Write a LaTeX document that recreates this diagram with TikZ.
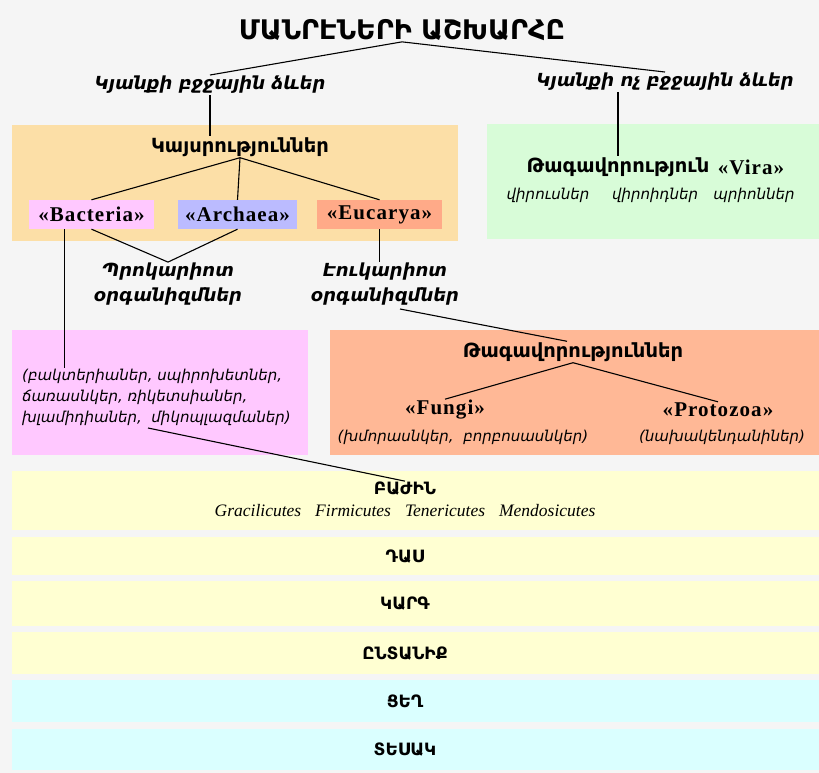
\documentclass[tikz,border=0pt]{standalone}
\usepackage{fontspec}
\setmainfont{DejaVu Sans}
\newfontfamily\latserif[LetterSpace=5]{Liberation Serif}
\newfontfamily\genserif{Liberation Serif}
\definecolor{bgc}{HTML}{F5F5F5}
\definecolor{orbox}{HTML}{FCDFA7}
\definecolor{grbox}{HTML}{D8FCD8}
\definecolor{pkbox}{HTML}{FFC8FF}
\definecolor{sabox}{HTML}{FFB896}
\definecolor{arbox}{HTML}{BBBBFF}
\definecolor{eubox}{HTML}{FFAA88}
\definecolor{ylbox}{HTML}{FFFFD2}
\definecolor{cybox}{HTML}{DAFFFF}
\begin{document}
\begin{tikzpicture}[x=1pt,y=-1pt,
  every node/.style={inner sep=1pt},
  title/.style={font=\bfseries\fontsize{27}{31}\selectfont},
  lifef/.style={font=\bfseries\itshape\fontsize{18}{21}\selectfont},
  hdr/.style={font=\bfseries\fontsize{19.5}{23}\selectfont},
  latb/.style={font=\latserif\bfseries\fontsize{21}{24}\selectfont},
  taxbox/.style={latb, minimum height=29pt, inner sep=0pt},
  lst/.style={font=\itshape\fontsize{15}{18}\selectfont},
  rank/.style={font=\bfseries\fontsize{17}{20}\selectfont},
  genl/.style={font=\genserif\itshape\fontsize{17.5}{20}\selectfont},
  link/.style={line width=1.1pt}]
\useasboundingbox (0,0) rectangle (819,773);
\fill[bgc] (0,0) rectangle (819,773);

% coloured panels
\fill[orbox] (12,125) rectangle (458,241);
\fill[grbox] (487,124) rectangle (819,239);
\fill[pkbox] (12,330) rectangle (308,455);
\fill[sabox] (330,330) rectangle (819,455);
\fill[ylbox] (12,471) rectangle (819,530);
\fill[ylbox] (12,537) rectangle (819,575);
\fill[ylbox] (12,581) rectangle (819,626);
\fill[ylbox] (12,632) rectangle (819,674);
\fill[cybox] (12,680) rectangle (819,722);
\fill[cybox] (12,729) rectangle (819,770);

% top levels
\node[title] (ttl) at (402,30) {ՄԱՆՐԷՆԵՐԻ ԱՇԽԱՐՀԸ};
\node[lifef] (life1) at (210,85) {Կյանքի բջջային ձևեր};
\node[lifef] (life2) at (665,82) {Կյանքի ոչ բջջային ձևեր};

% domains
\node[hdr] (kays) at (240,147) {Կայսրություններ};
\node[taxbox, fill=pkbox, minimum width=125pt] (bact) at (91.5,214.5) {«Bacteria»};
\node[taxbox, fill=arbox, minimum width=119pt] (arch) at (237.5,214.5) {«Archaea»};
\node[taxbox, fill=eubox, minimum width=125pt] (euca) at (379.5,214.5) {«Eucarya»};

\node[lifef] (prok1) at (168,272) {Պրոկարիոտ};
\node[lifef] (prok2) at (168,297) {օրգանիզմներ};
\node[lifef] (euk1) at (385,272) {Էուկարիոտ};
\node[lifef] (euk2) at (385,297) {օրգանիզմներ};

% viruses
\node[hdr] (vking) at (618,167) {Թագավորություն};
\node[latb] (vira) at (751,167) {«Vira»};
\node[lst] (vir1) at (548,195) {վիրուսներ};
\node[lst] (vir2) at (655,195) {վիրոիդներ};
\node[lst] (vir3) at (754,195) {պրիոններ};

% prokaryote groups
\node[lst, anchor=west] (bl1) at (21,376) {(բակտերիաներ, սպիրոխետներ,};
\node[lst, anchor=west] (bl2) at (21,397) {ճառասնկեր, ռիկետսիաներ,};
\node[lst, anchor=west] (bl3) at (21,418) {խլամիդիաներ,\ \ միկոպլազմաներ)};
\coordinate (bltap) at (148,428);
\coordinate (eutap) at (400,309);

% eukaryote kingdoms
\node[hdr] (kingd) at (573,352) {Թագավորություններ};
\node[latb] (fungi) at (445,410) {«Fungi»};
\node[lst] (fungil) at (463,437) {(խմորասնկեր,\ \ բորբոսասնկեր)};
\node[latb] (proto) at (718,410) {«Protozoa»};
\node[lst] (protol) at (722,437) {(նախակենդանիներ)};

% ranks
\node[rank] (bazh) at (405,489) {ԲԱԺԻՆ};
\node[genl] (gens) at (405,511) {Gracilicutes\hspace{14pt}Firmicutes\hspace{14pt}Tenericutes\hspace{14pt}Mendosicutes};
\node[rank] (das) at (405,557) {ԴԱՍ};
\node[rank] (karg) at (405,604) {ԿԱՐԳ};
\node[rank] (fam) at (405,653) {ԸՆՏԱՆԻՔ};
\node[rank] (gen) at (405,701) {ՑԵՂ};
\node[rank] (spec) at (405,749) {ՏԵՍԱԿ};

% connectors
\draw[link] (life1.north) -- (ttl.south) -- (life2.north);
\draw[link] (life1.south) -- (life1.south |- kays.north);
\draw[link] (vking.north |- life2.south) -- (vking.north);
\draw[link] (kays.south) -- (bact.north);
\draw[link] (kays.south) -- (arch.north);
\draw[link] (kays.south) -- (euca.north);
\draw[link] (bact.south) -- (prok1.north) -- (arch.south);
\draw[link] ([xshift=-27pt]bact.south) -- ([xshift=-27pt]bact.south |- bl1.north);
\draw[link] (euca.south) -- (euca.south |- euk1.north);
\draw[link] (eutap) -- ([xshift=-6pt]kingd.north);
\draw[link] (kingd.south) -- (fungi.north);
\draw[link] (kingd.south) -- (proto.north);
\draw[link] (bltap) -- (bazh.north);
\end{tikzpicture}
\end{document}
